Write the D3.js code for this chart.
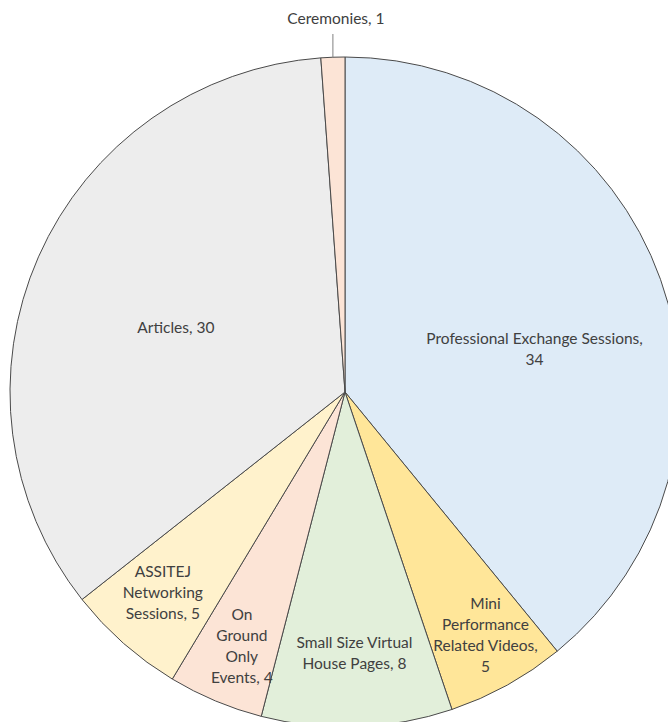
<!DOCTYPE html>
<html>
<head>
<meta charset="utf-8">
<script src="https://cdn.jsdelivr.net/npm/d3@7"></script>
<style>
  body { margin: 0; background: #fff; }
  svg { display: block; }
  text { font-family: Lato, "Open Sans", sans-serif; fill: #404040; }
</style>
</head>
<body>
<svg width="668" height="722"></svg>
<script>
// data, clockwise from 12 o'clock
const categories = ["Professional Exchange Sessions", "Mini Performance Related Videos",
  "Small Size Virtual House Pages", "On Ground Only Events", "ASSITEJ Networking Sessions",
  "Articles", "Ceremonies"];
const values = [34, 5, 8, 4, 5, 30, 1];
const labelLines = [
  ["Professional Exchange Sessions,", "34"],
  ["Mini", "Performance", "Related Videos,", "5"],
  ["Small Size Virtual", "House Pages, 8"],
  ["On", "Ground", "Only", "Events, 4"],
  ["ASSITEJ", "Networking", "Sessions, 5"],
  ["Articles, 30"],
  ["Ceremonies, 1"]
];
const colors = ["#deebf7", "#ffe699", "#e2efda", "#fce4d6", "#fff2cc", "#ededed", "#fce4d6"];

// label placement: radius as fraction of pie radius, angle nudge in degrees
const labelRadius = [0.58, 0.84, 0.78, 0.82, 0.81, 0.54, 1.0];
const labelNudge = [7, -1, 0, -0.7, 0.8, -3, 0];

const svg = d3.select("svg");
const cx = 345, cy = 392, r = 335;
const lineH = 21;
const fs = 15.5;

const pie = d3.pie().sort(null).value(d => d)(values);
const arc = d3.arc().innerRadius(0).outerRadius(r);

const g = svg.append("g").attr("transform", `translate(${cx},${cy})`);

g.selectAll("path.slice")
  .data(pie)
  .join("path")
  .attr("class", "slice")
  .attr("d", arc)
  .attr("fill", (d, i) => colors[i])
  .attr("stroke", "#4a4a4a")
  .attr("stroke-width", 1);

pie.forEach((d, i) => {
  if (i === pie.length - 1) return; // small slice gets a leader line
  const a = (d.startAngle + d.endAngle) / 2 + labelNudge[i] * Math.PI / 180;
  const rr = r * labelRadius[i];
  const x = Math.sin(a) * rr, y = -Math.cos(a) * rr;
  const lines = labelLines[i];
  const t = g.append("text")
    .attr("text-anchor", "middle")
    .attr("font-size", fs);
  lines.forEach((ln, k) => {
    t.append("tspan")
      .attr("x", x)
      .attr("y", y + (k - (lines.length - 1) / 2) * lineH + 5)
      .text(ln);
  });
});

// Ceremonies: label above the pie with a leader line
const last = pie[pie.length - 1];
const la = (last.startAngle + last.endAngle) / 2;
const lx = Math.sin(la) * r;
g.append("line")
  .attr("x1", lx).attr("x2", lx)
  .attr("y1", -r).attr("y2", -r - 23)
  .attr("stroke", "#808080").attr("stroke-width", 1);
g.append("text")
  .attr("x", lx + 3)
  .attr("y", -r - 33)
  .attr("text-anchor", "middle")
  .attr("font-size", fs)
  .text(labelLines[pie.length - 1][0]);
</script>
</body>
</html>
